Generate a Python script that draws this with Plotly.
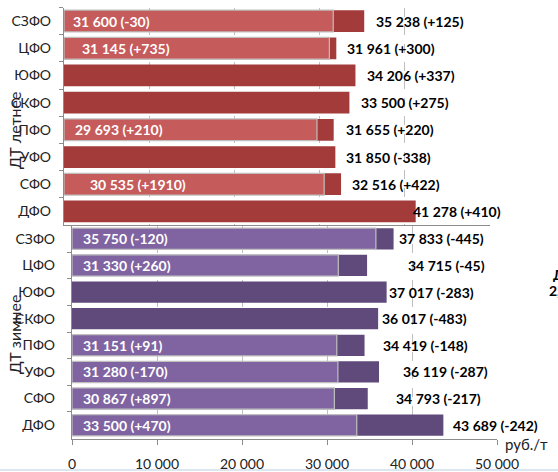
import plotly.graph_objects as go

# Regions (top to bottom)
regions = ["СЗФО", "ЦФО", "ЮФО", "СКФО", "ПФО", "УФО", "СФО", "ДФО"]

# ДТ летнее
summer_light = [31600, 31145, None, None, 29693, None, 30535, None]
summer_light_chg = [-30, 735, None, None, 210, None, 1910, None]
summer_dark = [35238, 31961, 34206, 33500, 31655, 31850, 32516, 41278]
summer_dark_chg = [125, 300, 337, 275, 220, -338, 422, 410]

# ДТ зимнее
winter_light = [35750, 31330, None, None, 31151, 31280, 30867, 33500]
winter_light_chg = [-120, 260, None, None, 91, -170, 897, 470]
winter_dark = [37833, 34715, 37017, 36017, 34419, 36119, 34793, 43689]
winter_dark_chg = [-445, -45, -283, -483, -148, -287, -217, -242]

x_ticks = [0, 10000, 20000, 30000, 40000, 50000]

# label pixel nudges (hand placed labels in the original)
summer_in_shift = [7, 16, 0, 0, 9, 0, 24, 0]
summer_out_shift = [10, 9, 10, 10, 10, 9, 9, -5]
winter_in_shift = [9] * 8
winter_out_shift = [3, 39, 0, 2, 16, 22, 26, 8]

W, H = 558, 472
FONT = "Lato"


def px(x):
    return x / W


def py(y):
    return 1 - y / H


def fmt(v):
    return f"{v:,}".replace(",", " ")


def lbl(v, c):
    return f"{fmt(v)} ({c:+d})"


fig = go.Figure()

panels = [
    ("x", "y", summer_dark, summer_light, "#A33B3B", "#C65B5B"),
    ("x2", "y2", winter_dark, winter_light, "#604A7B", "#8064A2"),
]
for xa, ya, dark, light, c_dark, c_light in panels:
    fig.add_trace(go.Bar(y=regions, x=dark, orientation="h", xaxis=xa, yaxis=ya,
                         marker=dict(color=c_dark, line=dict(width=0)), width=0.8,
                         showlegend=False, hoverinfo="skip"))
    fig.add_trace(go.Bar(y=regions, x=light, orientation="h", xaxis=xa, yaxis=ya,
                         marker=dict(color=c_light, line=dict(color="#BFBFBF", width=1.2)),
                         width=0.8, showlegend=False, hoverinfo="skip"))

annotations = []
label_sets = [
    ("x", "y", summer_light, summer_light_chg, summer_in_shift, summer_dark, summer_dark_chg, summer_out_shift),
    ("x2", "y2", winter_light, winter_light_chg, winter_in_shift, winter_dark, winter_dark_chg, winter_out_shift),
]
for xa, ya, light, lchg, lshift, dark, dchg, dshift in label_sets:
    for i, reg in enumerate(regions):
        if light[i] is not None:
            annotations.append(dict(x=0, y=reg, xref=xa, yref=ya, xanchor="left",
                                    xshift=lshift[i], showarrow=False,
                                    text=lbl(light[i], lchg[i]),
                                    font=dict(family=FONT, size=14, color="white", weight="bold")))
        annotations.append(dict(x=dark[i], y=reg, xref=xa, yref=ya, xanchor="left",
                                xshift=dshift[i], showarrow=False,
                                text=lbl(dark[i], dchg[i]),
                                font=dict(family=FONT, size=14, color="black", weight="bold")))

# axis titles and loose text
note = dict(xref="paper", yref="paper", showarrow=False, yanchor="middle")
annotations += [
    dict(note, x=px(14), y=py(131), text="ДТ летнее", textangle=-90, xanchor="center",
         font=dict(family=FONT, size=16, color="#222222")),
    dict(note, x=px(14), y=py(335), text="ДТ зимнее", textangle=-90, xanchor="center",
         font=dict(family=FONT, size=16, color="#222222")),
    dict(note, x=px(503), y=py(444), text="руб./т", xanchor="left",
         font=dict(family=FONT, size=15, color="#222222")),
    dict(note, x=px(551), y=py(274), text="Д", xanchor="left",
         font=dict(family=FONT, size=14, color="black", weight="bold")),
    dict(note, x=px(547), y=py(290), text="2,", xanchor="left",
         font=dict(family=FONT, size=14, color="black", weight="bold")),
]

grid = dict(showgrid=True, gridcolor="#BFBFBF", griddash="dash", gridwidth=1,
            range=[0, 50000], tickvals=x_ticks, zeroline=False,
            showline=True, linecolor="#8C8C8C", linewidth=1.3)
cat = dict(type="category", categoryorder="array", categoryarray=regions, autorange="reversed",
           showline=True, linecolor="#8C8C8C", linewidth=1.3, ticks="outside", ticklen=4,
           tickcolor="#8C8C8C", tickson="boundaries", showgrid=False, automargin=False,
           tickfont=dict(family=FONT, size=14, color="#222222"))

fig.update_layout(
    width=W, height=H,
    margin=dict(l=0, r=0, t=0, b=0),
    paper_bgcolor="white", plot_bgcolor="white",
    barmode="overlay",
    separators=". ",
    xaxis=dict(domain=[px(64), px(490)], anchor="y", showticklabels=False, ticks="",
               automargin=False, **grid),
    yaxis=dict(domain=[py(225), py(7.5)], anchor="x", ticklabelstandoff=9, **cat),
    xaxis2=dict(domain=[px(72), px(497)], anchor="y2", ticks="outside", ticklen=5,
                tickcolor="#8C8C8C", ticklabelstandoff=8, automargin=False,
                tickfont=dict(family=FONT, size=14, color="#222222"),
                tickformat=",d", **grid),
    yaxis2=dict(domain=[py(438.5), py(225.5)], anchor="x2", ticklabelstandoff=13, **cat),
    annotations=annotations,
    shapes=[dict(type="line", xref="paper", yref="paper", x0=0, x1=1, y0=py(470), y1=py(470),
                 line=dict(color="#DCE6F0", width=2))],
)

# the page body has a default 8px margin; drop it so the figure sits at the corner
fig.write_html("out.html", config={"displayModeBar": False},
               post_script="document.body.style.margin='0';")
